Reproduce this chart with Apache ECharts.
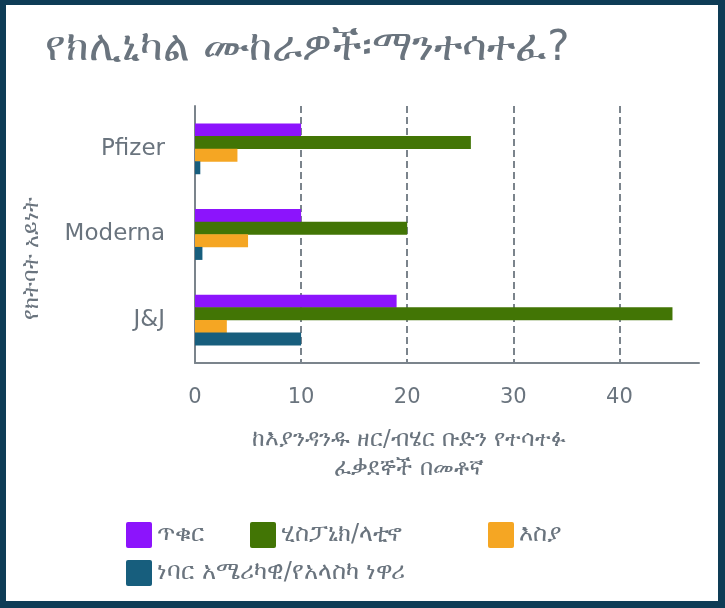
<!DOCTYPE html>
<html>
<head>
<meta charset="utf-8">
<script src="https://cdn.jsdelivr.net/npm/echarts@6/dist/echarts.min.js"></script>
<style>
  html, body { margin: 0; padding: 0; background: #fff; }
  #chart { position: absolute; left: 0; top: 0; width: 725px; height: 608px; }
  #frame {
    position: absolute; left: 0; top: 0; width: 725px; height: 608px;
    box-sizing: border-box; pointer-events: none;
    border-style: solid; border-color: #0e3c56;
    border-width: 5px 7px 7px 6px;
  }
</style>
</head>
<body>
<div id="chart"></div>
<div id="frame"></div>
<script>
// vaccine trials, share of participants per group (%)
const vaccines = ['Pfizer', 'Moderna', 'J&J']
const groupNames = ['ጥቁር', 'ሂስፓኒክ/ላቲኖ', 'እስያ', 'ነባር አሜሪካዊ/የአላስካ ነዋሪ']
const black = [10, 10, 19]
const hispanic = [26, 20, 45]
const asian = [4, 5, 3]
const nativeAm = [0.5, 0.7, 10]
const xTicks = [0, 10, 20, 30, 40]

const colors = ['#8c14fc', '#427505', '#f5a623', '#175e7d']
const textColor = '#6a747e'
const font = 'DejaVu Sans'

const seriesData = [black, hispanic, asian, nativeAm]

// square with slightly rounded corners
const legendIcon = 'path://M2,0H24A2,2 0 0 1 26,2V24A2,2 0 0 1 24,26H2A2,2 0 0 1 0,24V2A2,2 0 0 1 2,0Z'

// one legend per item so the positions follow the original layout
const legendPos = [
  { left: 126, top: 522 },
  { left: 250, top: 522 },
  { left: 488, top: 522 },
  { left: 126, top: 560 }
]

const chart = echarts.init(document.getElementById('chart'))
chart.setOption({
  animation: false,
  textStyle: { fontFamily: font },
  title: {
    text: 'የክሊኒካል ሙከራዎች፡ማንተሳተፈ?',
    left: 40,
    top: 23,
    textStyle: { fontSize: 42, fontWeight: 'normal', color: textColor, fontFamily: font }
  },
  legend: legendPos.map((p, i) => ({
    left: p.left,
    top: p.top,
    padding: 0,
    data: [groupNames[i]],
    icon: legendIcon,
    itemWidth: 26,
    itemHeight: 26,
    itemGap: 10,
    textStyle: { fontSize: 24, color: textColor, fontFamily: font }
  })),
  grid: {
    left: 195,
    right: 26,
    top: 106,
    bottom: 245
  },
  xAxis: {
    type: 'value',
    min: 0,
    max: 47.5,
    interval: 10,
    name: 'ከእያንዳንዱ ዘር/ብሄር ቡድን የተሳተፉ\nፈቃደኞች በመቶኛ',
    nameLocation: 'middle',
    nameGap: 63,
    nameTextStyle: {
      fontSize: 23, color: textColor, lineHeight: 29,
      padding: [0, 76, 0, 0], fontFamily: font
    },
    axisLine: { show: true, lineStyle: { color: '#7b848c', width: 2 } },
    axisTick: { show: false },
    axisLabel: {
      fontSize: 21, color: textColor, margin: 24,
      showMaxLabel: false,
      formatter: v => (xTicks.indexOf(v) >= 0 ? String(v) : '')
    },
    splitLine: {
      show: true,
      showMaxLine: false,
      lineStyle: { color: '#7b848c', width: 2, type: [7, 4] }
    }
  },
  yAxis: {
    type: 'category',
    data: vaccines,
    inverse: true,
    name: 'የክትባት አይነት',
    nameLocation: 'middle',
    nameGap: 152,
    nameTextStyle: {
      fontSize: 22, color: textColor,
      padding: [0, 48, 0, 0], fontFamily: font
    },
    axisLine: { show: true, lineStyle: { color: '#7b848c', width: 2 } },
    axisTick: { show: false },
    axisLabel: { fontSize: 23, color: textColor, margin: 30, padding: [6, 0, 0, 0] },
    splitLine: { show: false }
  },
  series: seriesData.map((d, i) => ({
    name: groupNames[i],
    type: 'bar',
    data: d,
    barWidth: 13,
    barGap: '-3%',
    itemStyle: { color: colors[i] }
  }))
})
</script>
</body>
</html>
